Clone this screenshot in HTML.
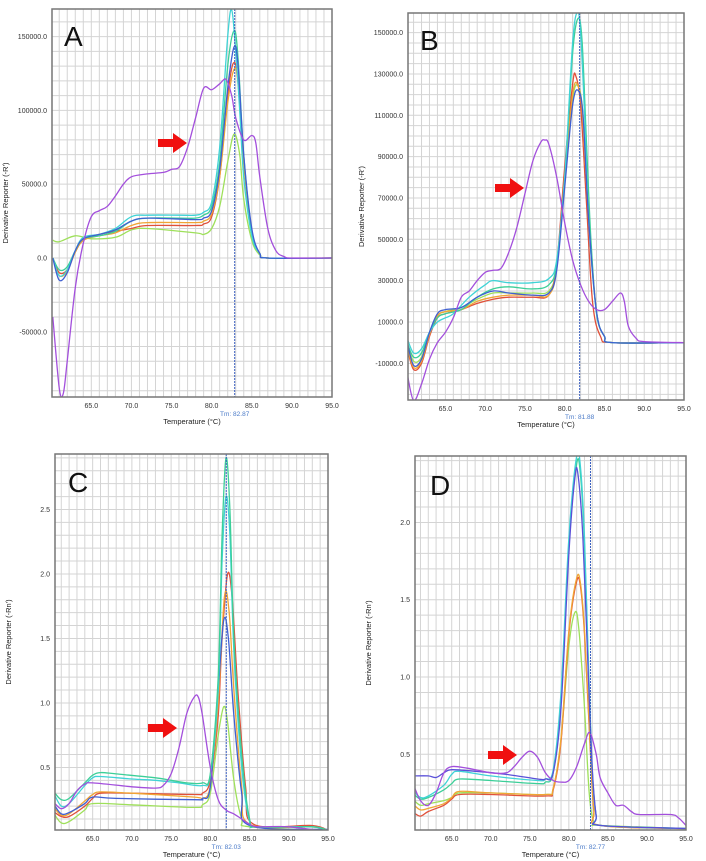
<!DOCTYPE html>
<html><head><meta charset="utf-8"><style>
body{margin:0;background:#fff;width:706px;height:861px;overflow:hidden;font-family:"Liberation Sans",sans-serif}
svg{position:absolute;left:0;top:0}
</style></head><body>
<svg id="s" width="706" height="861"></svg>
<script>
const xTicks=[65,70,75,80,85,90,95];
// Panel A (thousands)
const aYTicks=[150,100,50,0,-50];
const aPurple=[[60.2,-40],[61,-88],[61.5,-92],[62,-70],[63,-20],[64,10],[65,28],[66,32],[67,35],[68,42],[69,50],[70,55],[72,57],[74,58],[75,60],[76,62],[77,75],[78,95],[79,115],[80,114],[81,118],[81.8,121],[82.5,110],[83,95],[84,80],[85,83],[85.5,78],[86,55],[87,20],[88,5],[89,1],[90,0],[95,0]];
const aCyan=[[60.2,0],[61,-12],[62,-8],[63,5],[64,14],[66,16],[68,20],[70,28],[72,29],[76,29],[78,29],[79,31],[80,38],[81,75],[82,150],[82.5,168],[83,140],[83.5,100],[84,55],[85,15],[86,3],[87,0],[95,0]];
const aTeal=[[60.2,0],[61,-8],[62,-6],[63,5],[64,13],[66,15],[68,18],[70,25],[72,27],[76,27],[78,27],[79,29],[80,35],[81,65],[82,130],[82.8,154],[83.3,135],[84,70],[85,18],[86,3],[87,0],[95,0]];
const aBlue=[[60.2,0],[61,-15],[62,-10],[63,5],[64,13],[66,16],[68,19],[70,25],[72,27],[78,26],[79,27],[80,32],[81,60],[82,115],[82.8,143],[83.3,130],[84,70],[85,20],[86,3],[87,0],[95,0]];
const aRed=[[60.2,0],[61,-10],[62,-8],[63,4],[64,12],[66,16],[68,18],[70,20],[72,22],[78,22],[79,23],[80,28],[81,55],[82,110],[82.7,132],[83.3,120],[84,65],[85,18],[86,3],[87,0],[95,0]];
const aOrange=[[60.2,0],[61,-12],[62,-9],[63,4],[64,12],[66,15],[68,17],[70,22],[72,24],[78,24],[79,25],[80,30],[81,55],[82,105],[82.8,128],[83.3,118],[84,65],[85,18],[86,3],[87,0],[95,0]];
const aLime=[[60.2,12],[61,11],[63,15],[65,13],[68,14],[70,19],[72,20],[78,17],[79,16],[80,20],[81,35],[82,65],[82.8,84],[83.5,70],[84,40],[85,12],[86,2],[87,0],[95,0]];
// Panel B (thousands)
const bYTicks=[150,130,110,90,70,50,30,10,-10];
const bPurple=[[60.2,-15],[61,-28],[62,-20],[63,-8],[64,0],[65,5],[66,12],[67,22],[68,25],[69,30],[70,34],[71,35],[72,36],[73,44],[74,56],[75,72],[76,88],[77,97],[77.5,98],[78,96],[79,80],[80,58],[81,40],[82,28],[83,20],[84,16],[85,16],[86,20],[87,24],[87.5,20],[88,8],[89,2],[90,0.5],[95,0]];
const bCyan=[[60.2,2],[61,-5],[62,-3],[63,5],[64,10],[65,12],[66,14],[68,22],[70,28],[71,30],[73,29],[76,29],[78,31],[79,40],[80,80],[81,145],[81.6,160],[82,150],[82.5,110],[83,60],[84,15],[85,3],[86,0],[95,0]];
const bTeal=[[60.2,0],[61,-7],[62,-5],[63,5],[64,12],[65,14],[67,16],[69,22],[71,26],[73,27],[76,26],[78,28],[79,38],[80,78],[81,140],[81.7,157],[82.2,145],[82.7,100],[83.3,50],[84,14],[85,3],[86,0],[95,0]];
const bBlue=[[60.2,0],[61,-11],[62,-8],[63,5],[64,14],[65,16],[67,17],[69,22],[71,25],[73,24],[76,23],[78,24],[79,35],[80,75],[81,115],[81.7,122],[82.3,110],[83,60],[84,15],[85,3],[86,0],[95,0]];
const bRed=[[60.2,-3],[61,-13],[62,-10],[63,3],[64,12],[65,14],[67,16],[69,19],[71,21],[73,22],[76,22],[78,23],[79,38],[80,85],[81,125],[81.4,129],[82,115],[82.7,70],[83.5,20],[84.5,3],[86,0],[95,0]];
const bOrange=[[60.2,-2],[61,-12],[62,-9],[63,4],[64,13],[65,15],[67,16],[69,20],[71,22],[73,23],[76,23],[78,23],[79,36],[80,80],[81,120],[81.6,125],[82.2,112],[83,62],[84,15],[85,3],[86,0],[95,0]];
const bLime=[[60.2,0],[61,-9],[62,-7],[63,5],[64,13],[65,15],[67,17],[69,21],[71,24],[73,24],[76,24],[78,25],[79,37],[80,78],[81,118],[81.7,124],[82.3,110],[83,60],[84,15],[85,3],[86,0],[95,0]];
// Panel C
const cYTicks=[2.5,2.0,1.5,1.0,0.5];
const cPurple=[[60.2,0.22],[61,0.18],[62,0.22],[63,0.32],[64,0.37],[65,0.38],[70,0.35],[73,0.34],[74,0.36],[75,0.45],[76,0.65],[77,0.92],[78,1.05],[78.5,1.04],[79,0.9],[80,0.5],[81,0.25],[82,0.17],[83,0.14],[84,0.1],[85,0.06],[86,0.04],[90,0.04],[95,0.0]];
const cTeal=[[60.2,0.3],[61,0.25],[62,0.26],[64,0.38],[65,0.44],[66,0.46],[68,0.45],[73,0.42],[75,0.4],[77,0.38],[79,0.38],[80,0.45],[81,1.2],[81.5,2.3],[82,2.9],[82.5,2.5],[83,1.5],[84,0.6],[85,0.1],[86,0.04],[93,0.04],[95,0.01]];
const cCyan=[[60.2,0.28],[61,0.2],[62,0.22],[64,0.36],[65,0.42],[66,0.43],[70,0.41],[73,0.4],[76,0.38],[79,0.36],[80,0.44],[81,1.1],[81.5,2.1],[82,2.6],[82.5,2.3],[83,1.4],[84,0.5],[85,0.08],[86,0.04],[93,0.04],[95,0.01]];
const cRed=[[60.2,0.15],[61,0.12],[62,0.12],[64,0.2],[65,0.26],[66,0.3],[70,0.3],[78,0.29],[79,0.3],[80,0.4],[81,0.9],[81.5,1.5],[82.2,2.0],[82.8,1.8],[83.5,1.1],[84.5,0.35],[85.5,0.06],[93,0.05],[95,0.01]];
const cOrange=[[60.2,0.18],[61,0.13],[62,0.14],[64,0.24],[65,0.29],[66,0.31],[70,0.3],[78,0.27],[79,0.26],[80,0.36],[81,1.0],[81.8,1.82],[82.4,1.7],[83,1.1],[84,0.35],[85,0.06],[93,0.04],[95,0.01]];
const cBlue=[[60.2,0.2],[61,0.14],[62,0.15],[64,0.22],[65,0.27],[68,0.26],[78,0.25],[79,0.26],[80,0.35],[81,1.1],[81.7,1.64],[82.3,1.5],[83,0.9],[84,0.3],[85,0.05],[95,0.02]];
const cLime=[[60.2,0.13],[61,0.07],[62,0.08],[64,0.17],[65,0.22],[70,0.21],[78,0.19],[79,0.21],[80,0.3],[81,0.75],[81.7,0.97],[82.2,0.85],[83,0.4],[84,0.1],[85,0.04],[95,0.01]];
// Panel D
const dYTicks=[2.0,1.5,1.0,0.5];
const dPurple=[[60.2,0.29],[61,0.2],[62,0.17],[63,0.25],[64,0.38],[65,0.42],[67,0.41],[70,0.38],[72,0.38],[73,0.42],[74,0.48],[75,0.52],[76,0.48],[77,0.38],[78,0.33],[79,0.32],[80,0.33],[81,0.42],[82,0.57],[82.7,0.64],[83.5,0.5],[84,0.35],[85,0.25],[86,0.17],[87,0.17],[88,0.13],[89,0.11],[93,0.11],[94,0.09],[95,0.04]];
const dSlate=[[60.2,0.36],[62,0.36],[63,0.35],[64,0.38],[65,0.4],[68,0.39],[72,0.37],[76,0.34],[77,0.34],[78,0.38],[79,0.8],[80,1.8],[80.8,2.3],[81.2,2.3],[81.8,1.9],[82.5,1.0],[83,0.4],[83.5,0.1],[84,0.04],[95,0.02]];
const dCyan=[[60.2,0.26],[61,0.22],[62,0.23],[64,0.3],[65,0.37],[66,0.39],[70,0.36],[76,0.33],[77,0.34],[78,0.4],[79,0.9],[80,1.9],[81,2.43],[81.5,2.35],[82,1.9],[82.5,1.1],[83,0.4],[83.5,0.1],[84,0.04],[95,0.02]];
const dTeal=[[60.2,0.24],[61,0.21],[62,0.22],[64,0.27],[65,0.31],[66,0.34],[70,0.33],[76,0.31],[77,0.32],[78,0.38],[79,0.85],[80,1.85],[81,2.38],[81.5,2.3],[82,1.85],[82.5,1.05],[83,0.38],[83.5,0.1],[84,0.04],[95,0.02]];
const dOrange=[[60.2,0.17],[61,0.14],[62,0.15],[64,0.18],[65,0.22],[66,0.26],[70,0.25],[77,0.24],[78,0.28],[79,0.6],[80,1.3],[81,1.64],[81.5,1.6],[82,1.3],[82.7,0.6],[83.2,0.15],[84,0.04],[95,0.02]];
const dRed=[[60.2,0.12],[61,0.1],[62,0.13],[64,0.17],[65,0.21],[66,0.24],[70,0.24],[77,0.23],[78,0.27],[79,0.58],[80,1.28],[81,1.62],[81.5,1.58],[82,1.28],[82.7,0.58],[83.2,0.14],[84,0.04],[95,0.02]];
const dLime=[[60.2,0.2],[61,0.17],[62,0.18],[64,0.2],[65,0.22],[66,0.25],[70,0.25],[77,0.24],[78,0.28],[79,0.6],[80,1.2],[80.8,1.42],[81.3,1.3],[82,0.8],[82.6,0.25],[83.2,0.06],[84,0.04],[95,0.02]];

const C={purple:'#a34fdc',cyan:'#3fd3d6',teal:'#3ccf98',blue:'#3f5fd2',red:'#e0503a',orange:'#f0a535',lime:'#9ee05a',slate:'#5a50d8'};
const panels=[
 {id:'a',L:'A',x0:52,x1:332,y0:9,y1:397,xmin:60.1,ymin:-94.2,ymax:168.7,grid:10,ticks:aYTicks,fmt:v=>(v*1000).toFixed(1),tm:82.87,yt:"Derivative Reporter (-R')",lx:64,ly:46,ax:[158,133],
  s:[[aLime,C.lime],[aRed,C.red],[aOrange,C.orange],[aTeal,C.teal],[aCyan,C.cyan],[aBlue,C.blue],[aPurple,C.purple]]},
 {id:'b',L:'B',x0:408,x1:684,y0:13,y1:400,xmin:60.3,ymin:-27.75,ymax:159.5,grid:5,ticks:bYTicks,fmt:v=>(v*1000).toFixed(1),tm:81.88,yt:"Derivative Reporter (-R')",lx:420,ly:50,ax:[495,178],
  s:[[bLime,C.lime],[bRed,C.red],[bOrange,C.orange],[bTeal,C.teal],[bCyan,C.cyan],[bBlue,C.blue],[bPurple,C.purple]]},
 {id:'c',L:'C',x0:55,x1:328,y0:454,y1:830,xmin:60.2,ymin:0.015,ymax:2.93,grid:0.1,ticks:cYTicks,fmt:v=>v.toFixed(1),tm:82.03,yt:"Derivative Reporter (-Rn')",lx:68,ly:492,ax:[148,718],
  s:[[cLime,C.lime],[cRed,C.red],[cOrange,C.orange],[cBlue,C.blue],[cCyan,C.cyan],[cTeal,C.teal],[cPurple,C.purple]]},
 {id:'d',L:'D',x0:415,x1:686,y0:456,y1:830,xmin:60.3,ymin:0.01,ymax:2.43,grid:0.1,ticks:dYTicks,fmt:v=>v.toFixed(1),tm:82.77,yt:"Derivative Reporter (-Rn')",lx:430,ly:495,ax:[488,745],
  s:[[dLime,C.lime],[dRed,C.red],[dOrange,C.orange],[dTeal,C.teal],[dCyan,C.cyan],[dSlate,C.slate],[dPurple,C.purple]]}
];
const NS='http://www.w3.org/2000/svg',svg=document.getElementById('s');
function mk(t,a,p){const e=document.createElementNS(NS,t);for(const k in a)e.setAttribute(k,a[k]);(p||svg).appendChild(e);return e;}
function smooth(pts){let d='M'+pts[0][0].toFixed(1)+','+pts[0][1].toFixed(1);
 for(let i=0;i<pts.length-1;i++){const p0=pts[Math.max(0,i-1)],p1=pts[i],p2=pts[i+1],p3=pts[Math.min(pts.length-1,i+2)];
  const c1=[p1[0]+(p2[0]-p0[0])/6,p1[1]+(p2[1]-p0[1])/6],c2=[p2[0]-(p3[0]-p1[0])/6,p2[1]-(p3[1]-p1[1])/6];
  d+='C'+c1[0].toFixed(1)+','+c1[1].toFixed(1)+' '+c2[0].toFixed(1)+','+c2[1].toFixed(1)+' '+p2[0].toFixed(1)+','+p2[1].toFixed(1);}
 return d;}
panels.forEach(P=>{
 const g=mk('g',{});
 
 
 const X=t=>P.x0+(t-P.xmin)/(95-P.xmin)*(P.x1-P.x0);
 const Y=v=>P.y1-(v-P.ymin)/(P.ymax-P.ymin)*(P.y1-P.y0);
 const cp='cp'+P.id;
 const cl=mk('clipPath',{id:cp},g);mk('rect',{x:P.x0,y:P.y0,width:P.x1-P.x0,height:P.y1-P.y0},cl);
 const gr=mk('g',{stroke:'#d4d4d4','stroke-width':1},g);
 
 
 for(let t=Math.ceil(P.xmin);t<95;t++)mk('line',{x1:X(t),x2:X(t),y1:P.y0,y2:P.y1},gr);
 const n0=Math.ceil(P.ymin/P.grid-1e-6),n1=Math.floor(P.ymax/P.grid+1e-6);
 for(let n=n0;n<=n1;n++){const y=Y(n*P.grid);mk('line',{x1:P.x0,x2:P.x1,y1:y,y2:y},gr);}
 xTicks.forEach(t=>{const e=mk('text',{x:X(t),y:P.y1+11,'font-size':7,'text-anchor':'middle',fill:'#333'},g);e.textContent=t.toFixed(1);
  });
 P.ticks.forEach(v=>{const e=mk('text',{x:P.x0-5,y:Y(v)+2.5,'font-size':7,'text-anchor':'end',fill:'#333'},g);e.textContent=P.fmt(v);
  });
 const sg=mk('g',{'clip-path':'url(#'+cp+')',fill:'none','stroke-width':1.3},g);
 P.s.forEach(([arr,col])=>{const p=mk('path',{d:smooth(arr.map(q=>[X(q[0]),Y(q[1])])),stroke:col},sg);
  });
 const tl=mk('line',{x1:X(P.tm),x2:X(P.tm),y1:P.y0,y2:P.y1,stroke:'#3a5fc0','stroke-width':1,'stroke-dasharray':'2,1'},g);
 
 const tt=mk('text',{x:X(P.tm),y:P.y1+19,'font-size':6.5,'text-anchor':'middle',fill:'#4a7ac8'},g);tt.textContent='Tm: '+P.tm.toFixed(2);
 
 const fr=mk('rect',{x:P.x0,y:P.y0,width:P.x1-P.x0,height:P.y1-P.y0,fill:'none',stroke:'#777','stroke-width':1.5},g);
 
 const xt=mk('text',{x:(P.x0+P.x1)/2,y:P.y1+27,'font-size':7.5,'text-anchor':'middle',fill:'#222'},g);xt.textContent='Temperature (°C)';
 
 const cy=(P.y0+P.y1)/2,yx=P.x0-44;
 const yt=mk('text',{x:yx,y:cy,'font-size':7.5,'text-anchor':'middle',fill:'#222',transform:'rotate(-90 '+yx+' '+cy+')'},g);yt.textContent=P.yt;
 
 const lt=mk('text',{x:P.lx,y:P.ly,'font-size':28,fill:'#111'},g);lt.textContent=P.L;
 
 const [ax,ay]=P.ax;
 const ar=mk('path',{d:`M${ax},${ay+6}h15v-6l14,10l-14,10v-6h-15z`,fill:'#f01010'},g);
 
});
</script></body></html>
